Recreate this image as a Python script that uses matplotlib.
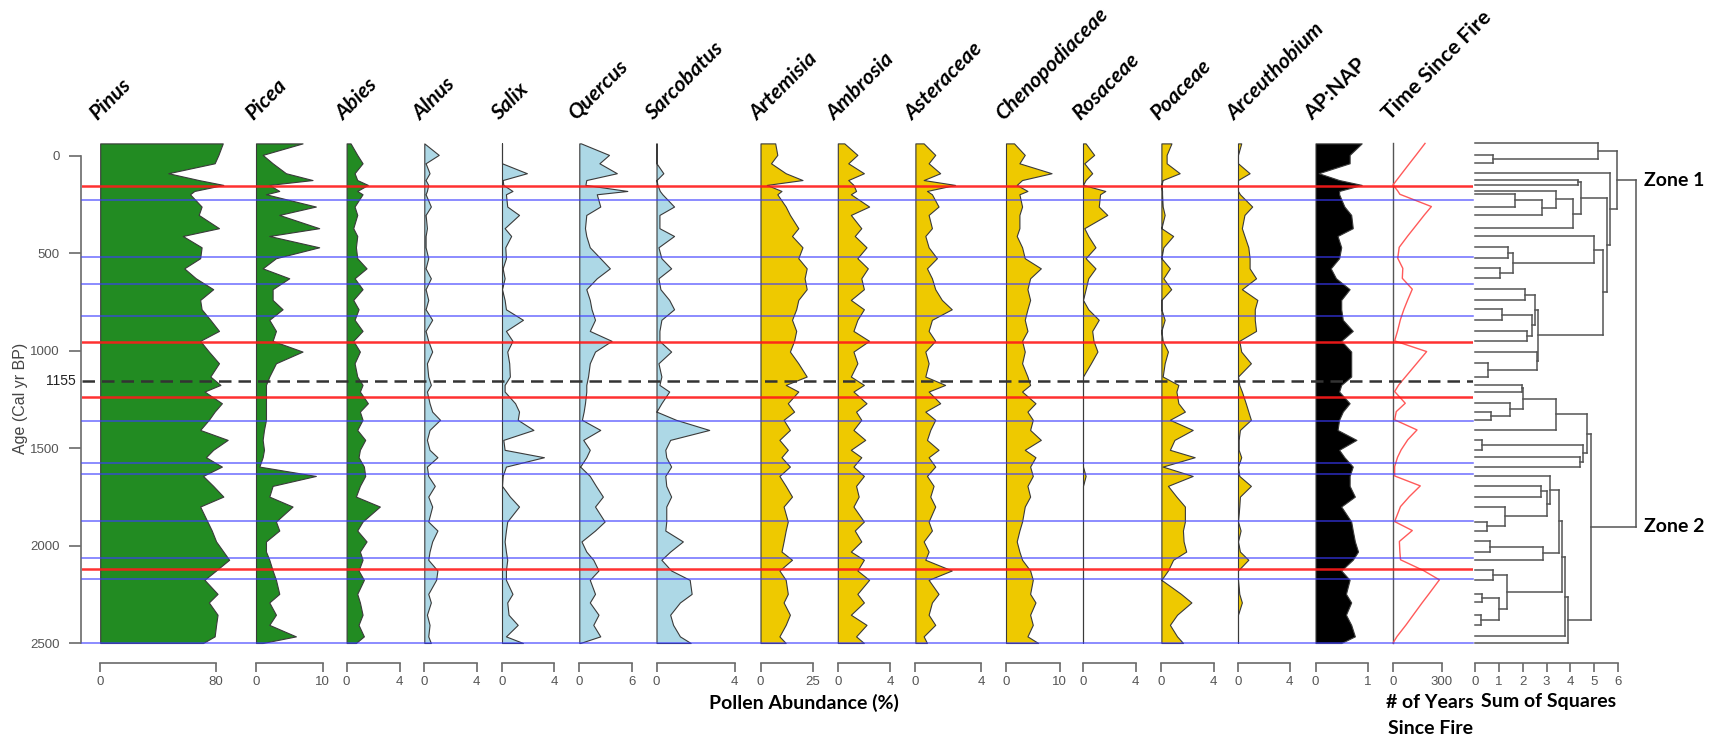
import matplotlib.pyplot as plt

plt.rcParams['font.family'] = ['Liberation Sans', 'DejaVu Sans']

W, H = 1709, 741
Y_TOP, Y_BOT = 143.4, 643.0      # pixel rows of the first sample and of 2500 BP
TITLE_FONT = ['Lato', 'DejaVu Sans']

# ---- data -------------------------------------------------------------
ages = [-63, -4, 39, 90, 125, 150, 181, 198, 261, 304, 372, 412, 470, 526, 578,
        629, 685, 740, 788, 842, 899, 950, 1005, 1065, 1133, 1176, 1210, 1270,
        1313, 1355, 1407, 1458, 1509, 1547, 1595, 1643, 1694, 1749, 1800, 1877,
        1923, 1979, 2031, 2073, 2128, 2176, 2248, 2292, 2355, 2407, 2466, 2500]

pinus = [84.6, 81.6, 79, 47, 68, 85, 65, 62, 70, 68, 82, 57, 70, 69, 58, 66, 78, 69,
         70, 76, 82, 69, 75, 82, 76, 83, 72, 84, 79, 75, 69, 88, 78, 73, 84, 71, 78,
         85, 69, 74, 77, 80, 85, 89, 80, 72, 81, 75, 81, 80, 79, 71]
picea = [7.0, 1.0, 2.5, 4.5, 8.5, 2.0, 3.5, 1.5, 9.0, 3.5, 9.5, 2.0, 9.5, 3.0, 1.0,
         5.0, 2.5, 2.5, 4.0, 2.0, 3.0, 2.5, 7.0, 3.0, 2.0, 1.5, 1.5, 1.5, 1.5, 1.5,
         1.2, 1.0, 1.2, 1.0, 0.5, 9.0, 2.5, 2.0, 5.5, 3.0, 3.5, 1.5, 1.5, 2.0, 2.5,
         3.0, 3.5, 2.0, 3.0, 2.0, 6.0, 1.0]
abies = [0.3, 0.8, 1.2, 0.6, 0.8, 1.6, 0.8, 1.2, 0.6, 0.8, 0.5, 0.8, 0.7, 0.8, 1.5,
         0.6, 1.2, 0.5, 0.9, 0.6, 1.2, 0.5, 1.0, 0.6, 0.8, 1.2, 1.0, 1.6, 1.0, 1.2,
         0.8, 1.4, 1.0, 0.9, 1.3, 1.4, 1.0, 0.7, 2.5, 1.2, 0.8, 1.5, 1.0, 1.2, 0.9,
         1.3, 0.8, 1.0, 1.2, 0.9, 1.3, 0.7]
alnus = [0, 1.1, 0.1, 0.4, 0.1, 0.3, 0.2, 0.1, 0.5, 0.1, 0.2, 0.1, 0.1, 0.3, 0.1,
         0.5, 0.1, 0.3, 0.1, 0.6, 0.1, 0.3, 0.6, 0.2, 0.3, 0.5, 0.2, 0.4, 0.6, 1.2,
         0.4, 0.2, 0.4, 1.0, 0.2, 0.3, 0.8, 0.3, 0.6, 0.3, 1.0, 0.6, 0.4, 0.3, 1.0,
         0.9, 0.3, 0.5, 0.2, 0.4, 0.3, 0.5]
salix = [0, 0, 0, 1.9, 0.05, 0.1, 0.8, 0.3, 0.4, 1.3, 0.2, 0.7, 0.25, 0.3, 0.05,
         0.2, 0, 0.2, 0.3, 1.6, 0.3, 0.8, 0.4, 0.55, 0.6, 0.2, 0.2, 1.0, 1.3, 1.2,
         2.4, 0.1, 0.2, 3.2, 0.3, 0.05, 0, 0.6, 1.3, 0.4, 0.3, 0.2, 0.3, 0.4, 0.3,
         0.3, 0.8, 0.4, 0.5, 1.2, 0.3, 1.6]
quercus = [0.2, 3.4, 2.3, 4.3, 0.8, 0.7, 5.5, 2.0, 2.4, 0.8, 0.65, 0.8, 1.2, 2.4,
           3.5, 2.0, 0.8, 1.2, 1.4, 1.8, 1.2, 3.7, 1.8, 1.2, 1.0, 0.8, 0.8, 0.65,
           0.5, 0.3, 2.4, 0.45, 1.2, 0.8, 0.1, 1.2, 1.9, 2.7, 1.8, 2.9, 1.8, 0.25,
           0.8, 1.6, 2.2, 1.2, 1.8, 1.2, 2.2, 1.6, 2.4, 0.1]
sarcobatus = [0, 0, 0, 0.35, 0, 0.05, 0.17, 0.3, 0.9, 0.15, 0.15, 0.9, 0.1, 0.25,
              0.75, 0.1, 0.2, 0.65, 0.9, 0.25, 0.15, 0.15, 0.75, 0.1, 0.25, 0.15,
              0.65, 0.25, 0.0, 1.0, 2.7, 0.7, 0.45, 0.5, 0.75, 0.45, 0.5, 0.75, 0.5,
              0.5, 0.45, 1.35, 0.7, 0.25, 0.75, 1.7, 1.8, 1.2, 0.7, 0.85, 1.2, 1.75]
artemisia = [7, 8, 5, 12, 20, 3, 10, 8, 12, 14, 18, 15, 20, 18, 22, 21, 22, 18, 17,
             15, 17, 16, 14, 18, 22, 12, 18, 13, 16, 11, 14, 9, 13, 10, 14, 9, 12,
             15, 11, 13, 12, 11, 10, 15, 9, 12, 13, 11, 14, 12, 9, 12]
ambrosia = [0.5, 1.5, 0.8, 2.0, 0.8, 1.2, 1.4, 1.0, 2.4, 1.0, 1.8, 1.3, 2.2, 1.5,
            2.3, 1.8, 2.0, 1.0, 2.0, 1.5, 1.2, 2.4, 1.2, 1.5, 1.0, 2.0, 1.2, 2.2,
            1.4, 1.8, 1.2, 2.1, 1.0, 1.8, 1.2, 2.0, 1.4, 1.6, 1.2, 2.0, 1.3, 1.8,
            1.0, 2.0, 1.5, 2.4, 1.5, 2.0, 1.0, 2.2, 1.4, 2.0]
asteraceae = [0.5, 1.2, 0.8, 1.5, 0.5, 2.4, 0.7, 1.0, 1.4, 0.8, 1.0, 0.6, 0.8, 1.3,
              0.7, 1.0, 1.2, 1.6, 2.2, 1.0, 0.8, 1.2, 0.6, 0.8, 0.6, 1.8, 0.8, 1.5,
              0.6, 1.2, 0.9, 0.7, 1.4, 0.8, 1.2, 0.7, 1.1, 0.9, 1.2, 0.8, 1.0, 0.5,
              0.8, 0.6, 2.2, 0.8, 1.4, 1.0, 0.8, 1.2, 0.5, 0.7]
chenopodiaceae = [1.5, 3.5, 2.5, 8.5, 3.0, 2.0, 4.0, 2.5, 3.0, 2.5, 2.5, 2.0, 3.0,
                  3.5, 6.5, 4.5, 4.0, 4.5, 4.0, 3.5, 4.0, 3.0, 3.5, 3.0, 4.0, 4.5,
                  3.0, 5.5, 4.0, 5.0, 4.5, 6.5, 3.5, 5.5, 4.5, 5.0, 4.0, 4.5, 3.5,
                  3.0, 2.5, 2.0, 2.5, 3.0, 4.5, 5.0, 4.5, 5.5, 4.5, 5.0, 4.0, 6.0]
rosaceae = [0.2, 0.85, 0.1, 0.7, 0.2, 0, 1.7, 1.3, 1.2, 1.85, 0.1, 0.4, 0.95, 0.2,
            0.95, 0.4, 0.2, 0, 0.4, 1.2, 0.7, 0.8, 1.1, 0.6, 0,
            0, 0, 0, 0, 0, 0, 0, 0, 0, 0, 0.2,
            0, 0, 0, 0, 0, 0, 0, 0, 0, 0, 0, 0, 0, 0, 0, 0]
poaceae = [0.77, 0.4, 0.4, 1.4, 0.1, 0, 0.05, 0.05, 0.1, 0.25, 0, 0.9, 0.15, 0,
           0.65, 0.15, 0.75, 0, 0, 0.25, 0, 0.1, 0.5, 0.25, 0.1, 1.3, 1.15, 1.3,
           1.8, 0.65, 2.4, 1.0, 0.65, 2.55, 0.1, 2.4, 0.5, 1.15, 1.8, 1.8, 1.65,
           1.7, 1.9, 0.9, 0.5, 0, 1.5, 2.3, 1.2, 0.65, 1.2, 1.66]
arceuthobium = [0.25, 0, 0, 0.9, 0, 0, 0, 0.15, 1.1, 0.5, 0.3, 0.5, 0.8, 0.9, 0.9,
                1.4, 0.3, 1.5, 1.3, 1.3, 1.4, 0.1, 0.25, 1.0, 0, 0.1, 0.3, 0.6, 0.8,
                1.0, 0.15, 0.05, 0.05, 0.25, 0, 0.1, 1.0, 0.15, 0.1, 0, 0.2, 0, 0.15,
                0.8, 0, 0, 0.1, 0.3, 0, 0, 0, 0]
ap_nap = [0.88, 0.65, 0.65, 0.06, 0.45, 0.88, 0.45, 0.45, 0.55, 0.68, 0.71, 0.42,
          0.49, 0.45, 0.29, 0.39, 0.65, 0.49, 0.49, 0.52, 0.71, 0.49, 0.68, 0.68,
          0.68, 0.49, 0.45, 0.65, 0.52, 0.45, 0.42, 0.78, 0.45, 0.55, 0.71, 0.65,
          0.65, 0.75, 0.49, 0.68, 0.71, 0.75, 0.81, 0.71, 0.49, 0.65, 0.58, 0.68,
          0.58, 0.68, 0.75, 0.49]
time_since_fire = [196, 142, 102, 55, 23, 0, 29, 42, 235, 192, 128, 90, 38, 29, 60,
                   57, 118, 90, 67, 45, 28, 10, 206, 146, 78, 35, 10, 75, 20, 10,
                   147, 90, 50, 28, 10, 10, 167, 100, 46, 10, 118, 39, 42, 46, 186,
                   284, 220, 180, 125, 80, 25, 0]

taxa = ['Pinus', 'Picea', 'Abies', 'Alnus', 'Salix', 'Quercus', 'Sarcobatus',
        'Artemisia', 'Ambrosia', 'Asteraceae', 'Chenopodiaceae', 'Rosaceae',
        'Poaceae', 'Arceuthobium', 'AP:NAP']
taxa_values = [pinus, picea, abies, alnus, salix, quercus, sarcobatus, artemisia,
               ambrosia, asteraceae, chenopodiaceae, rosaceae, poaceae,
               arceuthobium, ap_nap]
scale_max = [80, 10, 4, 4, 4, 6, 4, 25, 4, 4, 10, 4, 4, 4, 1]

red_lines = [156, 954, 1240, 2119]
blue_lines = [229, 522, 656, 822, 1361, 1579, 1635, 1874, 2064, 2174, 2500]
zone_boundary = 1155
age_ticks = [0, 500, 1000, 1500, 2000, 2500]

# CONISS merges: (child a, child b, sum of squares); leaves are sample indices,
# merge k creates node len(ages) + k
merges = [(1, 2, 0.74), (0, 52, 5.18), (4, 5, 4.34), (7, 8, 1.68), (55, 9, 2.80),
          (6, 56, 3.40), (57, 10, 4.13), (54, 58, 4.43), (12, 13, 1.40),
          (14, 15, 1.05), (60, 61, 1.61), (11, 62, 5.00), (16, 17, 2.10),
          (18, 19, 1.12), (20, 21, 2.17), (65, 66, 2.38), (64, 67, 2.52),
          (23, 24, 0.56), (22, 69, 2.59), (68, 70, 2.66), (63, 71, 5.36),
          (59, 72, 5.52), (3, 73, 5.67), (53, 74, 5.95),
          (25, 26, 1.96), (28, 29, 0.66), (27, 77, 1.47), (76, 78, 2.03),
          (79, 30, 3.40), (31, 32, 0.31), (33, 34, 4.41), (81, 82, 4.55),
          (80, 83, 4.69), (36, 37, 2.76), (39, 40, 0.49), (38, 86, 1.26),
          (85, 87, 3.04), (35, 88, 3.15), (41, 42, 0.63), (90, 43, 2.87),
          (89, 91, 3.54), (44, 45, 0.74), (46, 47, 0.28), (48, 49, 0.24),
          (94, 95, 1.02), (93, 96, 1.33), (92, 97, 3.64), (98, 50, 3.78),
          (99, 51, 3.92), (84, 100, 4.85), (75, 101, 6.75)]
zone_nodes = {'Zone 1': 75, 'Zone 2': 101}

# ---- layout (pixel columns of each scale bar: 0 and max) ---------------
panel_px = [(100.2, 216.1), (256, 322.5), (346.6, 399.8), (424.3, 476.8),
            (502, 554.4), (579.3, 631.7), (656.5, 734.6), (760.5, 813),
            (837.8, 890), (915.4, 981.5), (1006, 1059.6), (1083, 1135.5),
            (1161.4, 1213.6), (1238, 1289.6), (1315.5, 1368)]
tsf_px = (1393, 1442)
dendro_px = (1475, 1618)

green, blue, yellow = '#228B22', '#ADD8E6', '#EEC900'
fill_colors = [green] * 3 + [blue] * 4 + [yellow] * 7 + ['black']
edge = '#3a3a3a'
axis_grey = '#6a6a6a'
label_grey = '#555555'

fig = plt.figure(figsize=(W / 100, H / 100), dpi=100)


def add_panel(x0, x1):
    ax = fig.add_axes([x0 / W, 1 - Y_BOT / H, (x1 - x0) / W, (Y_BOT - Y_TOP) / H])
    ax.set_ylim(2500, ages[0])
    ax.patch.set_alpha(0)
    for s in ['top', 'right', 'left']:
        ax.spines[s].set_visible(False)
    ax.set_yticks([])
    ax.spines['bottom'].set_position(('outward', 14.4))
    ax.spines['bottom'].set_color(axis_grey)
    ax.spines['bottom'].set_linewidth(1.2)
    ax.tick_params(axis='x', direction='out', length=6.5, width=1.2,
                   color=axis_grey, labelcolor=label_grey, labelsize=9.5, pad=3)
    return ax


def title(x, text, italic=True):
    fig.text((x - 3) / W, 1 - 121 / H, text, rotation=45, rotation_mode='anchor',
             ha='left', va='baseline', fontsize=15.3, fontweight='bold',
             style='italic' if italic else 'normal', family=TITLE_FONT)


# pollen panels
for name, vals, vmax, (x0, x1), col in zip(taxa, taxa_values, scale_max,
                                            panel_px, fill_colors):
    ax = add_panel(x0, x1)
    ax.set_xlim(0, vmax)
    ax.fill_betweenx(ages, 0, vals, facecolor=col, edgecolor=edge, lw=0.8,
                     clip_on=False, zorder=2)
    ax.spines['bottom'].set_bounds(0, vmax)
    ax.set_xticks([0, vmax])
    ax.set_xticklabels(['0', str(vmax)])
    title(x0, name, italic=(name != 'AP:NAP'))

# time since fire
ax = add_panel(*tsf_px)
ax.set_xlim(0, 300)
ax.plot([0, 0], [ages[0], ages[-1]], color='#555555', lw=1.0, clip_on=False)
ax.plot(time_since_fire, ages, color='#ff5a5a', lw=1.0, clip_on=False)
ax.spines['bottom'].set_bounds(0, 300)
ax.set_xticks([0, 300])
title(tsf_px[0], 'Time Since Fire', italic=False)

# dendrogram
axd = add_panel(*dendro_px)
axd.set_xlim(0, 6)
axd.spines['bottom'].set_bounds(0, 6)
axd.set_xticks(range(7))
node_y = list(ages)
node_h = [0.0] * len(ages)
dcol = '#555555'
for a, b, h in merges:
    for c in (a, b):
        axd.plot([node_h[c], h], [node_y[c], node_y[c]], color=dcol, lw=1.1,
                 clip_on=False)
    axd.plot([h, h], [node_y[a], node_y[b]], color=dcol, lw=1.1, clip_on=False)
    node_y.append((node_y[a] + node_y[b]) / 2)
    node_h.append(h)
root_h = merges[-1][2]
for label, node in zone_nodes.items():
    axd.annotate(label, xy=(root_h, node_y[node]), xytext=(6, 0),
                 textcoords='offset points', ha='left', va='center',
                 fontsize=14, fontweight='bold', family=TITLE_FONT,
                 annotation_clip=False)

# age axis
axa = fig.add_axes([81.4 / W, 1 - Y_BOT / H, 10 / W, (Y_BOT - Y_TOP) / H])
axa.set_ylim(2500, ages[0])
axa.patch.set_alpha(0)
for s in ['top', 'right', 'bottom']:
    axa.spines[s].set_visible(False)
axa.set_xticks([])
axa.spines['left'].set_bounds(0, 2500)
axa.spines['left'].set_color(axis_grey)
axa.spines['left'].set_linewidth(1.2)
axa.set_yticks(age_ticks)
axa.tick_params(axis='y', direction='out', length=8.6, width=1.2,
                color=axis_grey, labelcolor=label_grey, labelsize=9.5, pad=7)
axa.text(-0.6, zone_boundary, str(zone_boundary), transform=axa.get_yaxis_transform(),
         ha='right', va='center', fontsize=10, color='#222222')
fig.text(21 / W, 1 - 398 / H, 'Age (Cal yr BP)', rotation=90, ha='center',
         va='center', fontsize=11.5, color='#444444')

# event lines over everything
ov = fig.add_axes([82 / W, 1 - Y_BOT / H, (1473 - 82) / W, (Y_BOT - Y_TOP) / H])
ov.set_ylim(2500, ages[0])
ov.set_xlim(0, 1)
ov.axis('off')
for a in blue_lines:
    ov.axhline(a, color='#3b3bff', lw=1.1, alpha=0.75, clip_on=False)
for a in red_lines:
    ov.axhline(a, color='#ff1a1a', lw=1.8, alpha=0.9)
ov.axhline(zone_boundary, color='#333333', lw=1.8, linestyle=(0, (5, 2.8)))

# bottom labels
fig.text(804 / W, 1 - 703 / H, 'Pollen Abundance (%)', ha='center', va='center',
         fontsize=14, fontweight='bold', family=TITLE_FONT)
fig.text(1430 / W, 1 - 703 / H, '# of Years', ha='center', va='center',
         fontsize=14, fontweight='bold', family=TITLE_FONT)
fig.text(1430 / W, 1 - 728 / H, 'Since Fire', ha='center', va='center',
         fontsize=14, fontweight='bold', family=TITLE_FONT)
fig.text(1549 / W, 1 - 702 / H, 'Sum of Squares', ha='center', va='center',
         fontsize=14, fontweight='bold', family=TITLE_FONT)

fig.savefig('out.png', dpi=100)
